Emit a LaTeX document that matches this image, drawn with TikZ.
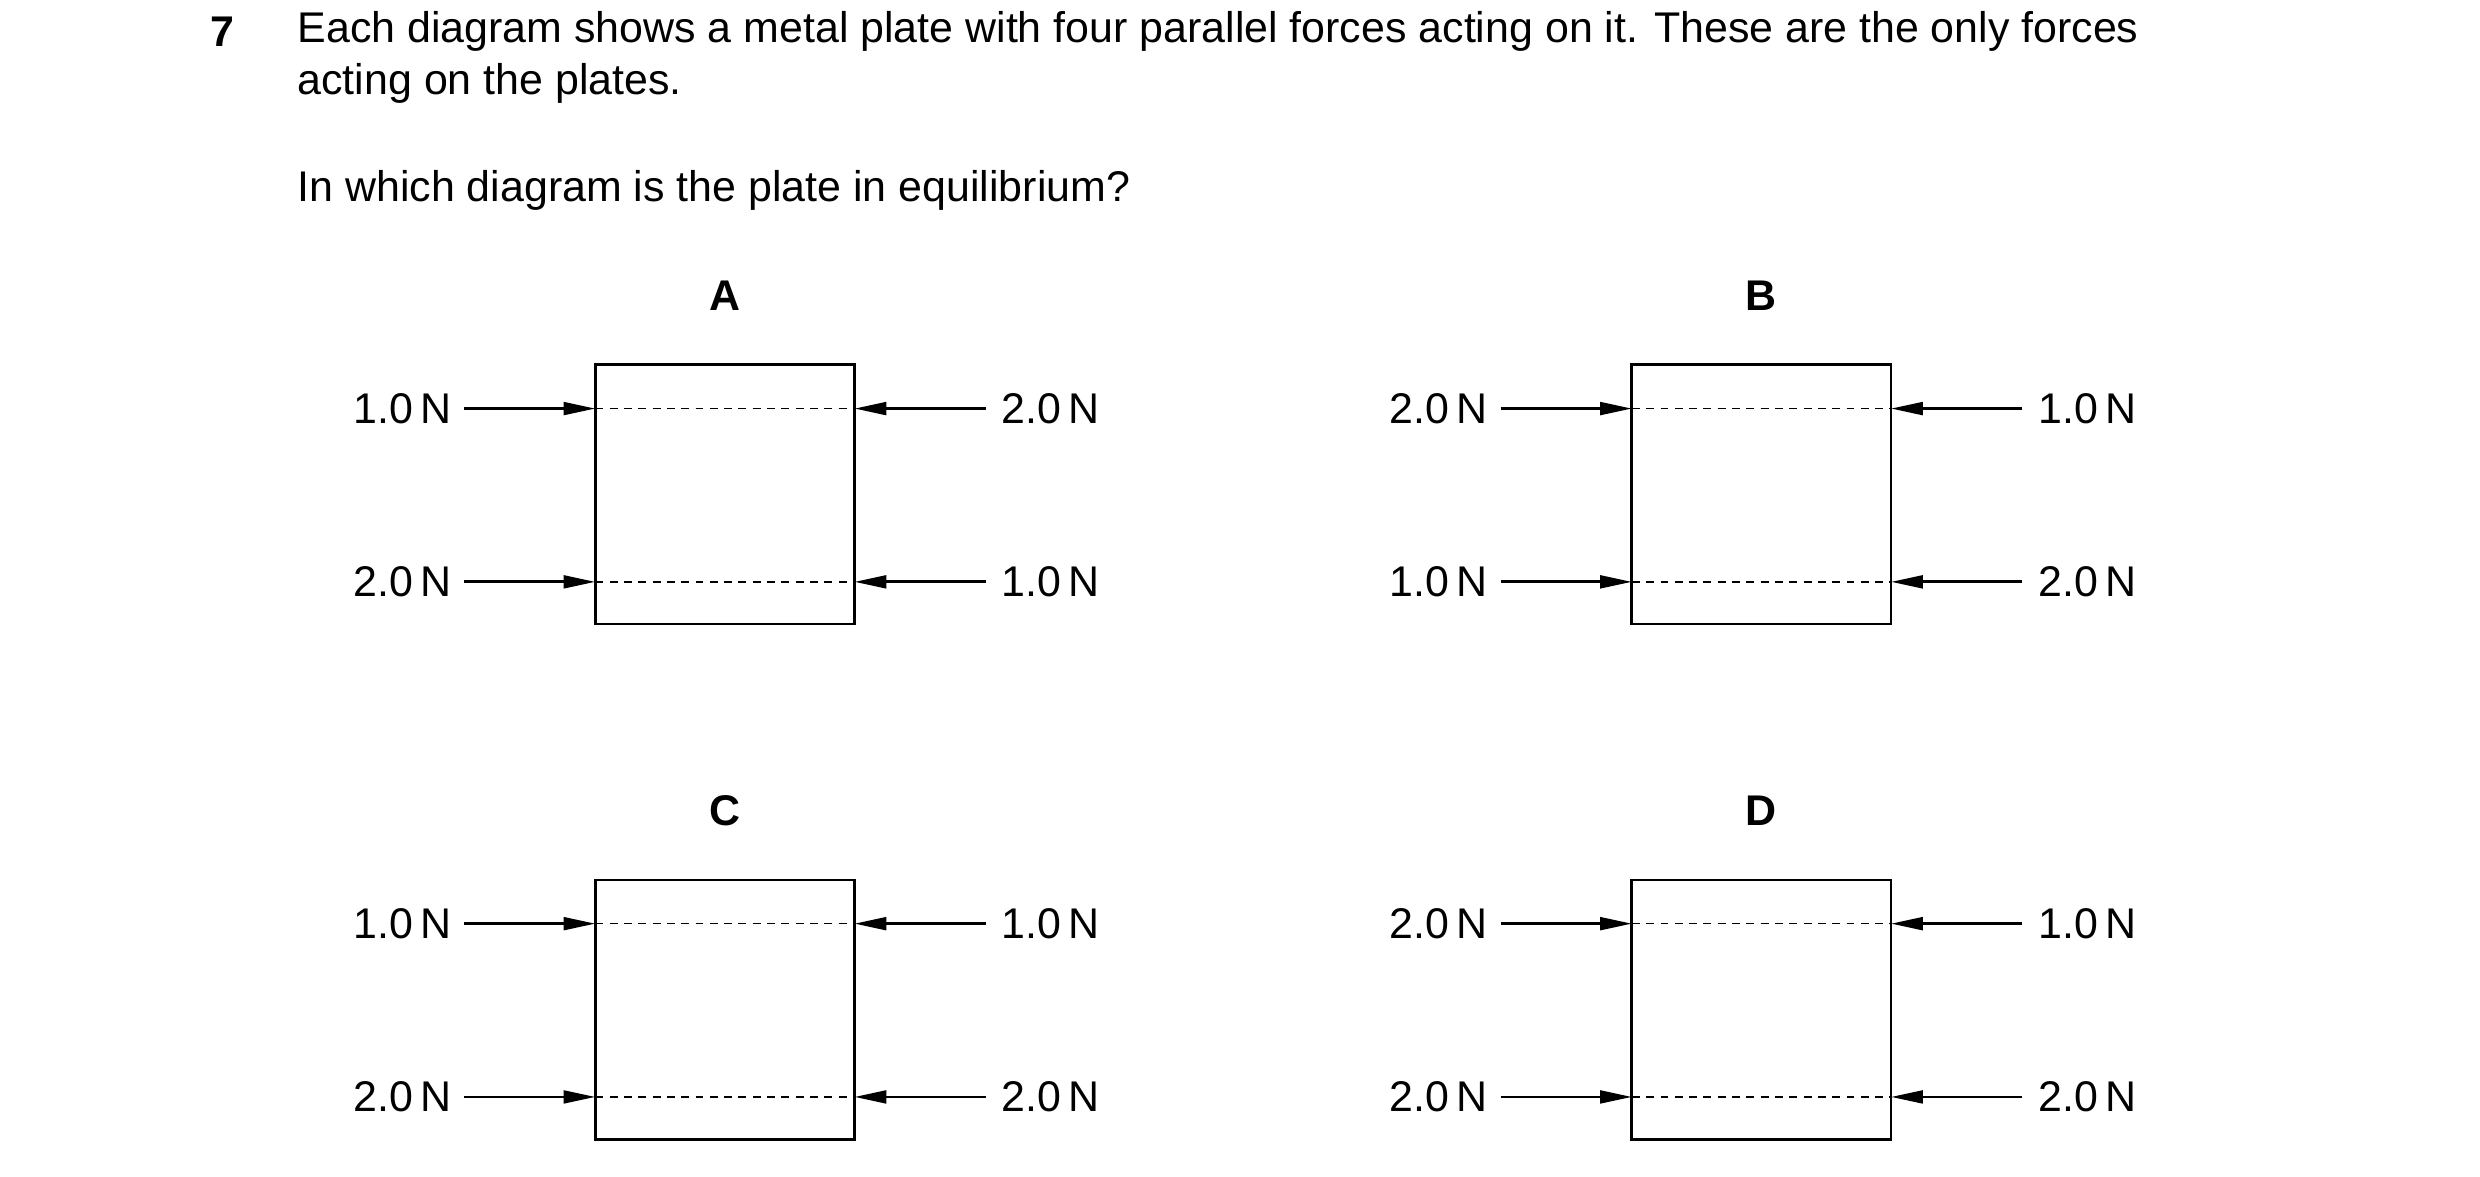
\documentclass[tikz,border=0pt]{standalone}
\usepackage{fontspec}
\setmainfont{Liberation Sans}
\usetikzlibrary{arrows.meta}
\tikzset{
  plate/.style={draw,line width=1.8pt,minimum size=163pt,inner sep=0},
  force/.style={line width=1.8pt,-{Triangle[length=20pt,width=8pt]}},
  mid/.style={line width=0.9pt,dash pattern=on 5pt off 4pt},
  lbl/.style={font=\fontsize{27}{32}\selectfont,inner sep=0},
}
\begin{document}
\begin{tikzpicture}[x=1pt,y=-1pt]
	\useasboundingbox (0,0) rectangle (1560,740);
	\node (qno) at (140,20) [font=\fontsize{27}{32}\selectfont\bfseries] {7};
	\node (qtext) at (187,36) [anchor=west,align=left,font=\fontsize{27}{33}\selectfont,inner sep=0] {Each diagram shows a metal plate with four parallel forces acting on it. These are the only forces\\acting on the plates.};
	\node (qask) at (187,120) [anchor=west,font=\fontsize{27}{32}\selectfont,inner sep=0] {In which diagram is the plate in equilibrium?};
	
	\foreach \nm/\cx/\cy/\la/\lb/\ra/\rb in {A/456/311/1.0/2.0/2.0/1.0,B/1108/311/2.0/1.0/1.0/2.0,C/456/635/1.0/2.0/1.0/2.0,D/1108/635/2.0/2.0/1.0/2.0}{
		\node (\nm) at (\cx,\cy) [plate] {};
		\node (\nm-name) at (\cx,\cy-125) [lbl,font=\fontsize{27}{32}\selectfont\bfseries] {\nm};
		\coordinate (\nm-lt) at (\cx-81.5,\cy-54);
		\coordinate (\nm-lb) at (\cx-81.5,\cy+55);
		\coordinate (\nm-rt) at (\cx+81.5,\cy-54);
		\coordinate (\nm-rb) at (\cx+81.5,\cy+55);
		\node (\nm-fla) at (\cx-164,\cy-54) [lbl,anchor=east,xshift=-8pt] {\la\,N};
		\node (\nm-flb) at (\cx-164,\cy+55) [lbl,anchor=east,xshift=-8pt] {\lb\,N};
		\node (\nm-fra) at (\cx+164,\cy-54) [lbl,anchor=west,xshift=10pt] {\ra\,N};
		\node (\nm-frb) at (\cx+164,\cy+55) [lbl,anchor=west,xshift=10pt] {\rb\,N};
		\draw[force] (\nm-fla.east) ++(8pt,0) -- (\nm-lt);
		\draw[force] (\nm-flb.east) ++(8pt,0) -- (\nm-lb);
		\draw[force] (\nm-fra.west) ++(-10pt,0) -- (\nm-rt);
		\draw[force] (\nm-frb.west) ++(-10pt,0) -- (\nm-rb);
		\draw[mid] (\nm-lt) -- (\nm-rt);
		\draw[mid] (\nm-lb) -- (\nm-rb);
	}
\end{tikzpicture}
\end{document}
